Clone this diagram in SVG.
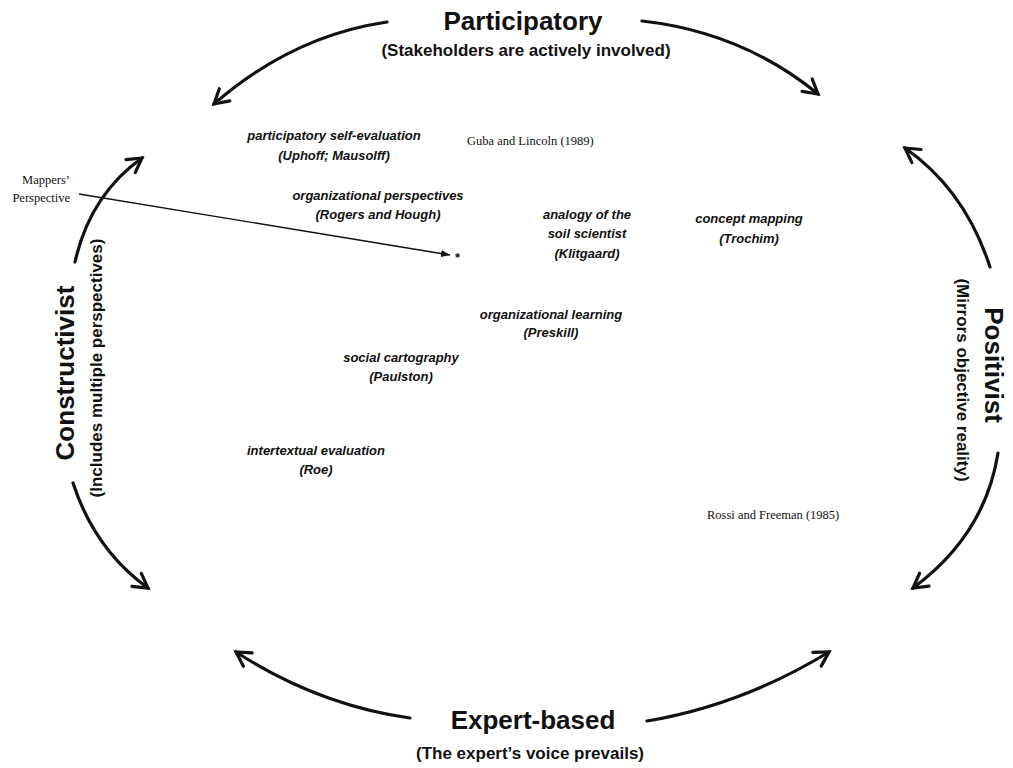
<svg xmlns="http://www.w3.org/2000/svg" width="1013" height="768" viewBox="0 0 1013 768">
  <style>
    .big { font-family: "Liberation Sans", Arial, sans-serif; font-weight: bold; font-size: 26px; fill: #111; }
    .sub { font-family: "Liberation Sans", Arial, sans-serif; font-weight: bold; font-size: 17px; fill: #111; }
    .item { font-family: "Liberation Sans", Arial, sans-serif; font-weight: bold; font-style: italic; font-size: 13px; fill: #111; text-anchor: middle; }
    .ref { font-family: "Liberation Serif", "Times New Roman", serif; font-size: 12.5px; fill: #111; }
    .arc { fill: none; stroke: #111; stroke-width: 3.2; stroke-linecap: round; marker-end: url(#open); }
    .pointer { fill: none; stroke: #111; stroke-width: 1.3; marker-end: url(#small); }
  </style>
  <defs>
    <marker id="open" markerUnits="userSpaceOnUse" viewBox="0 0 20 20" refX="17" refY="10" markerWidth="20" markerHeight="20" orient="auto">
      <path d="M3,2 L17,10 L3,18" fill="none" stroke="#111" stroke-width="3.2" stroke-linecap="round" stroke-linejoin="miter"/>
    </marker>
    <marker id="small" markerUnits="userSpaceOnUse" viewBox="0 0 10 8" refX="9" refY="4" markerWidth="10" markerHeight="8" orient="auto">
      <path d="M0,0.5 L9,4 L0,7.5 Z" fill="#111"/>
    </marker>
  </defs>
  <rect width="1013" height="768" fill="#fff"/>

  <!-- connectors: the four pairs of curved arrows around the frame, plus the pointer -->
  <g id="connectors">
    <path class="arc" d="M387,22 Q292,36 214,104"/>
    <path class="arc" d="M642,21 Q742,32 818,94"/>
    <path class="arc" d="M75,262 Q90,195 142,158"/>
    <path class="arc" d="M73,483 Q95,550 148,588"/>
    <path class="arc" d="M990,267 Q965,190 905,148"/>
    <path class="arc" d="M998,453 Q985,535 913,588"/>
    <path class="arc" d="M410,718 Q318,705 236,652"/>
    <path class="arc" d="M647,721 Q742,705 829,652"/>
    <path class="pointer" d="M79,194 L450,255"/>
  </g>

  <g id="participatory">
    <text class="big" x="523" y="30" text-anchor="middle">Participatory</text>
    <text class="sub" x="526" y="56" text-anchor="middle">(Stakeholders are actively involved)</text>
  </g>
  <g id="expert-based">
    <text class="big" x="533" y="729" text-anchor="middle">Expert-based</text>
    <text class="sub" x="530" y="759" text-anchor="middle">(The expert’s voice prevails)</text>
  </g>
  <g id="constructivist">
    <text class="big" transform="translate(74,373) rotate(-90)" text-anchor="middle">Constructivist</text>
    <text class="sub" transform="translate(102,368) rotate(-90)" text-anchor="middle">(Includes multiple perspectives)</text>
  </g>
  <g id="positivist">
    <text class="big" transform="translate(985,365) rotate(90)" text-anchor="middle">Positivist</text>
    <text class="sub" transform="translate(957,380) rotate(90)" text-anchor="middle">(Mirrors objective reality)</text>
  </g>

  <g id="mappers-perspective">
    <text class="ref" x="70" y="184" text-anchor="end">Mappers’</text>
    <text class="ref" x="70" y="202" text-anchor="end">Perspective</text>
    <text class="item" x="457" y="262" font-size="15">*</text>
  </g>

  <g id="participatory-self-evaluation">
    <text class="item" x="334" y="140">participatory self-evaluation</text>
    <text class="item" x="334" y="160">(Uphoff; Mausolff)</text>
  </g>
  <g id="guba-lincoln">
    <text class="ref" x="467" y="145">Guba and Lincoln (1989)</text>
  </g>
  <g id="organizational-perspectives">
    <text class="item" x="378" y="200">organizational perspectives</text>
    <text class="item" x="378" y="219">(Rogers and Hough)</text>
  </g>
  <g id="soil-scientist">
    <text class="item" x="587" y="219">analogy of the</text>
    <text class="item" x="587" y="238">soil scientist</text>
    <text class="item" x="587" y="258">(Klitgaard)</text>
  </g>
  <g id="concept-mapping">
    <text class="item" x="749" y="223">concept mapping</text>
    <text class="item" x="749" y="243">(Trochim)</text>
  </g>
  <g id="organizational-learning">
    <text class="item" x="551" y="319">organizational learning</text>
    <text class="item" x="551" y="337">(Preskill)</text>
  </g>
  <g id="social-cartography">
    <text class="item" x="401" y="362">social cartography</text>
    <text class="item" x="401" y="381">(Paulston)</text>
  </g>
  <g id="intertextual-evaluation">
    <text class="item" x="316" y="455">intertextual evaluation</text>
    <text class="item" x="316" y="474">(Roe)</text>
  </g>
  <g id="rossi-freeman">
    <text class="ref" x="707" y="519">Rossi and Freeman (1985)</text>
  </g>
</svg>
